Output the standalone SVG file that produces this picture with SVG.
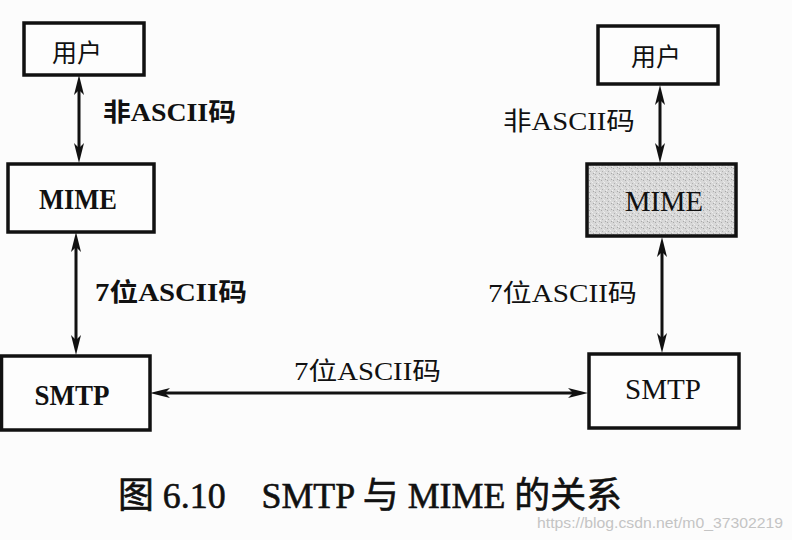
<svg xmlns="http://www.w3.org/2000/svg" width="792" height="540" viewBox="0 0 792 540">
<style>
.box{fill:#fdfdfd;stroke:#111;stroke-width:3.5}
.shade{fill:url(#grain);stroke:#111;stroke-width:3.5}
.t{font-family:"Liberation Serif","Noto Sans CJK SC",serif;fill:#111;font-size:25px}
.n{font-size:30px}
.cap{font-size:36px;stroke:#111;stroke-width:0.6}
.b{font-weight:bold}
.c{text-anchor:middle}
.lnk{stroke:#111;stroke-width:3;fill:none;marker-start:url(#ah);marker-end:url(#ah)}
.wm{font-family:"Liberation Sans",sans-serif;font-size:15px;fill:#c4c4c4}
</style>
<defs>
<marker id="ah" viewBox="0 0 20 10" refX="12" refY="5" markerWidth="20" markerHeight="10" markerUnits="userSpaceOnUse" orient="auto-start-reverse">
<path d="M0,0 L20,5 L0,10 L5,5 z" fill="#111"/>
</marker>
<pattern id="grain" width="6" height="6" patternUnits="userSpaceOnUse">
<rect width="6" height="6" fill="#d8d8d8"/>
<rect x="1" y="0" width="1" height="1" fill="#aaa"/>
<rect x="4" y="2" width="1" height="1" fill="#eee"/>
<rect x="2" y="3" width="1" height="1" fill="#b0b0b0"/>
<rect x="5" y="5" width="1" height="1" fill="#a8a8a8"/>
<rect x="0" y="4" width="1" height="1" fill="#f0f0f0"/>
<rect x="3" y="1" width="1" height="1" fill="#e8e8e8"/>
</pattern>
</defs>
<rect x="0" y="0" width="792" height="540" fill="#fcfcfc"/>
<g id="connectors">
<line class="lnk" x1="79" y1="83" x2="79" y2="155"/>
<line class="lnk" x1="76" y1="240" x2="76" y2="347"/>
<line class="lnk" x1="660" y1="93" x2="660" y2="155"/>
<line class="lnk" x1="662" y1="245" x2="662" y2="345"/>
<line class="lnk" x1="158" y1="393" x2="580" y2="393"/>
<text class="t b" x="103" y="121" textLength="133" lengthAdjust="spacingAndGlyphs">非ASCII码</text>
<text class="t b" x="95" y="301" textLength="152" lengthAdjust="spacingAndGlyphs">7位ASCII码</text>
<text class="t" x="503" y="130" textLength="132" lengthAdjust="spacingAndGlyphs">非ASCII码</text>
<text class="t" x="488" y="302" textLength="149" lengthAdjust="spacingAndGlyphs">7位ASCII码</text>
<text class="t" x="294" y="380" textLength="147" lengthAdjust="spacingAndGlyphs">7位ASCII码</text>
</g>
<g id="user-left">
<rect class="box" x="24" y="23" width="120" height="52"/>
<text class="t c" x="77" y="62">用户</text>
</g>
<g id="mime-left">
<rect class="box" x="8" y="164" width="146" height="68"/>
<text class="t n b c" x="78" y="209" textLength="78" lengthAdjust="spacingAndGlyphs">MIME</text>
</g>
<g id="smtp-left">
<rect class="box" x="1.5" y="356" width="148.5" height="74"/>
<text class="t n b c" x="72" y="405" textLength="75" lengthAdjust="spacingAndGlyphs">SMTP</text>
</g>
<g id="user-right">
<rect class="box" x="598" y="26" width="120" height="58"/>
<text class="t c" x="656" y="66">用户</text>
</g>
<g id="mime-right">
<rect class="shade" x="587" y="164" width="149" height="72"/>
<text class="t n c" x="664" y="211" textLength="78" lengthAdjust="spacingAndGlyphs">MIME</text>
</g>
<g id="smtp-right">
<rect class="box" x="589" y="354" width="150" height="74"/>
<text class="t n c" x="663" y="399" textLength="76" lengthAdjust="spacingAndGlyphs">SMTP</text>
</g>
<text class="t cap" x="118" y="508" textLength="504" lengthAdjust="spacingAndGlyphs">图 6.10　SMTP 与 MIME 的关系</text>
<text class="wm" x="537" y="528" textLength="246" lengthAdjust="spacingAndGlyphs">https://blog.csdn.net/m0_37302219</text>
</svg>
